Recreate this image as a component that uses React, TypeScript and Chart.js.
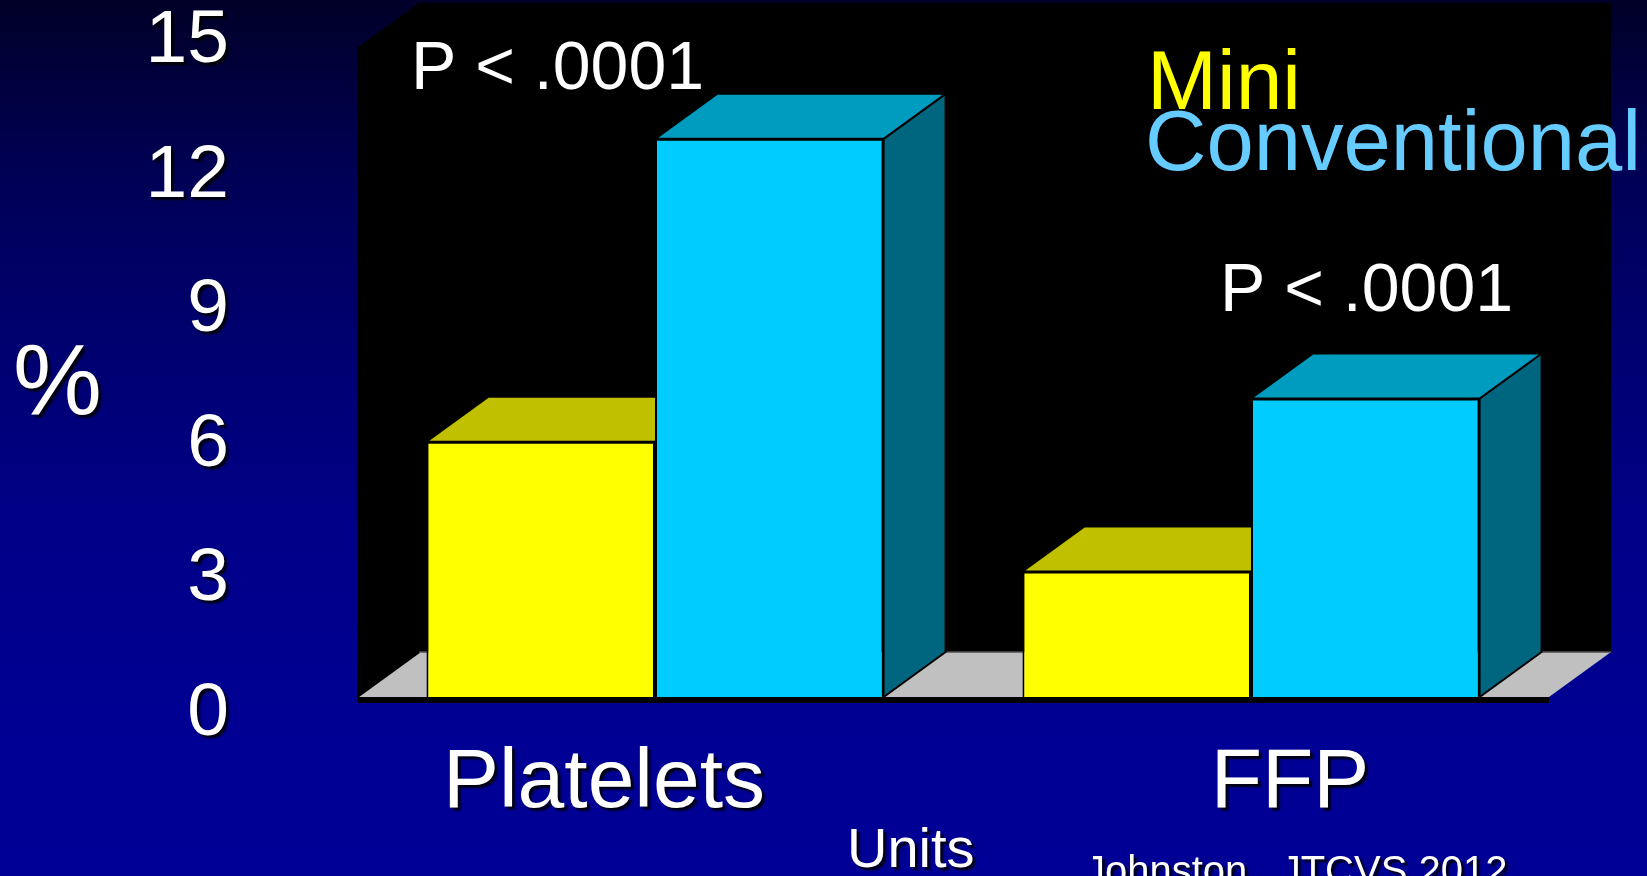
import React, { useEffect, useRef } from "react";
import { Chart, registerables } from "chart.js";

Chart.register(...registerables);

// ---------------- data ----------------
const categories: string[] = ["Platelets", "FFP"];
const seriesNames: string[] = ["Mini", "Conventional"];
const miniValues: number[] = [5.9, 2.9];
const conventionalValues: number[] = [12.9, 6.9];
const yTickValues: number[] = [0, 3, 6, 9, 12, 15];
const pValueTexts: string[] = ["P < .0001", "P < .0001"];
const yAxisTitle = "%";
const unitNote = "Units";
const citation = "Johnston , JTCVS 2012";

// ---------------- style / layout ----------------
const W = 1647;
const H = 876;
const FONT = '"Liberation Sans", Arial, Helvetica, sans-serif';
const MINI_FRONT = "#FFFF00";
const MINI_TOP = "#C0C000";
const MINI_SIDE = "#808000";
const CONV_FRONT = "#00CCFF";
const CONV_TOP = "#009CC0";
const CONV_SIDE = "#006680";
const LEGEND_COLORS = ["#FFFF00", "#66CCFF"];
const DX = 62;
const DY = 45;
const AXIS_MAX = 15;
const FRONT_LEFT = 357;
const FRONT_RIGHT = 1549;
const FRONT_TOP = 48;
const FRONT_BOTTOM = 697;
const LABEL_TOP = 41.5;
const LABEL_BOTTOM = 714;
const TICK_RIGHT = 229;
const CAT_LABEL_SHIFT = [-51, 39];

function drawText(
  ctx: CanvasRenderingContext2D,
  text: string,
  x: number,
  y: number,
  size: number,
  color: string,
  align: CanvasTextAlign,
  shadow: boolean
) {
  ctx.save();
  ctx.font = `${size}px ${FONT}`;
  ctx.fillStyle = color;
  ctx.textAlign = align;
  ctx.textBaseline = "alphabetic";
  if (shadow) {
    ctx.shadowColor = "rgba(0,0,0,0.85)";
    ctx.shadowOffsetX = 3;
    ctx.shadowOffsetY = 3;
    ctx.shadowBlur = 2;
  }
  ctx.fillText(text, x, y);
  ctx.restore();
}

function poly(ctx: CanvasRenderingContext2D, pts: number[][], fill: string | null, stroke: string | null, lw = 2) {
  ctx.beginPath();
  ctx.moveTo(pts[0][0], pts[0][1]);
  for (let i = 1; i < pts.length; i++) ctx.lineTo(pts[i][0], pts[i][1]);
  ctx.closePath();
  if (fill) {
    ctx.fillStyle = fill;
    ctx.fill();
  }
  if (stroke) {
    ctx.strokeStyle = stroke;
    ctx.lineWidth = lw;
    ctx.lineJoin = "miter";
    ctx.stroke();
  }
}

const threeDPlugin = {
  id: "threeD",
  beforeDraw(chart: any) {
    const { ctx, width, height } = chart;
    ctx.save();
    const g = ctx.createLinearGradient(0, 0, 0, height);
    g.addColorStop(0, "#000028");
    g.addColorStop(0.2, "#000056");
    g.addColorStop(0.36, "#00006C");
    g.addColorStop(0.6, "#000088");
    g.addColorStop(0.85, "#000094");
    g.addColorStop(1, "#000096");
    ctx.fillStyle = g;
    ctx.fillRect(0, 0, width, height);
    ctx.restore();
  },
  beforeDatasetsDraw(chart: any) {
    const { ctx, chartArea } = chart;
    const ys = chart.scales.y;
    const L = chartArea.left;
    const R = chartArea.right;
    const B = ys.getPixelForValue(0);
    const T = ys.getPixelForValue(AXIS_MAX);
    ctx.save();
    // back wall + left side wall
    poly(ctx, [[L + DX, T - DY], [R + DX, T - DY], [R + DX, B - DY], [L + DX, B - DY]], "#000000", null);
    poly(ctx, [[L, B], [L, T], [L + DX, T - DY], [L + DX, B - DY]], "#000000", null);
    // floor
    poly(ctx, [[L, B], [R, B], [R + DX, B - DY], [L + DX, B - DY]], "#C0C0C0", null);
    ctx.strokeStyle = "#505050";
    ctx.lineWidth = 1.5;
    ctx.beginPath();
    ctx.moveTo(L + DX, B - DY);
    ctx.lineTo(R + DX, B - DY);
    ctx.stroke();
    ctx.strokeStyle = "#000000";
    ctx.lineWidth = 2.5;
    ctx.beginPath();
    ctx.moveTo(L, B);
    ctx.lineTo(L + DX, B - DY);
    ctx.stroke();
    // thick front edge of floor
    ctx.fillStyle = "#000000";
    ctx.fillRect(L, B, R - L, 6);

    // top and side faces of the bars (fronts are drawn by Chart.js)
    const tops = [MINI_TOP, CONV_TOP];
    const sides = [MINI_SIDE, CONV_SIDE];
    chart.data.datasets.forEach((_ds: any, di: number) => {
      const meta = chart.getDatasetMeta(di);
      meta.data.forEach((bar: any) => {
        const { x, y, base, width } = bar.getProps(["x", "y", "base", "width"], true);
        const l = x - width / 2;
        const r = x + width / 2;
        poly(ctx, [[r, y], [r + DX, y - DY], [r + DX, base - DY], [r, base]], sides[di], "#000000", 2);
        poly(ctx, [[l, y], [r, y], [r + DX, y - DY], [l + DX, y - DY]], tops[di], "#000000", 2);
      });
    });
    ctx.restore();
  },
  afterDatasetsDraw(chart: any) {
    // shadow for the axis tick labels drawn right after this hook
    const ctx = chart.ctx;
    ctx.shadowColor = "rgba(0,0,0,0.85)";
    ctx.shadowOffsetX = 3;
    ctx.shadowOffsetY = 3;
    ctx.shadowBlur = 2;
  },
  afterDraw(chart: any) {
    const ctx = chart.ctx;
    ctx.shadowColor = "rgba(0,0,0,0)";
    ctx.shadowOffsetX = 0;
    ctx.shadowOffsetY = 0;
    ctx.shadowBlur = 0;
    const xs = chart.scales.x;

    drawText(ctx, yAxisTitle, 13, 414, 100, "#FFFFFF", "left", true);
    drawText(ctx, pValueTexts[0], 411, 89, 68, "#FFFFFF", "left", false);
    drawText(ctx, pValueTexts[1], 1220, 311, 68, "#FFFFFF", "left", false);
    drawText(ctx, seriesNames[0], 1147, 109, 84, LEGEND_COLORS[0], "left", false);
    drawText(ctx, seriesNames[1], 1145, 170, 85, LEGEND_COLORS[1], "left", false);
    categories.forEach((c, i) => {
      drawText(ctx, c, xs.getPixelForValue(i) + CAT_LABEL_SHIFT[i], 807, 84, "#FFFFFF", "center", true);
    });
    drawText(ctx, unitNote, 847, 867, 56, "#FFFFFF", "left", true);
    drawText(ctx, citation, 1085, 884, 40, "#FFFFFF", "left", true);
  },
};

export default function App() {
  const ref = useRef<HTMLCanvasElement>(null);

  useEffect(() => {
    const canvas = ref.current;
    if (!canvas) return;
    const unit = (FRONT_BOTTOM - FRONT_TOP) / AXIS_MAX;
    const dataMin = -(LABEL_BOTTOM - FRONT_BOTTOM) / unit;
    const dataMax = AXIS_MAX + (FRONT_TOP - LABEL_TOP) / unit;

    const common = {
      borderColor: "#000000",
      borderWidth: 2,
      borderSkipped: "bottom",
      yAxisID: "y",
      categoryPercentage: 0.767,
      barPercentage: 1,
    };

    const chart = new Chart(canvas, {
      type: "bar",
      data: {
        labels: categories,
        datasets: [
          { ...common, label: seriesNames[0], data: miniValues, backgroundColor: MINI_FRONT },
          { ...common, label: seriesNames[1], data: conventionalValues, backgroundColor: CONV_FRONT },
        ],
      } as any,
      options: {
        responsive: false,
        animation: false,
        devicePixelRatio: 1,
        events: [],
        layout: {
          padding: { top: LABEL_TOP, bottom: H - LABEL_BOTTOM, left: 0, right: W - FRONT_RIGHT },
        },
        plugins: {
          legend: { display: false },
          tooltip: { enabled: false },
          title: { display: false },
        },
        scales: {
          x: { display: false },
          y: { display: false, min: dataMin, max: dataMax },
          yl: {
            type: "linear",
            position: "left",
            min: 0,
            max: AXIS_MAX,
            grid: { display: false, drawTicks: false },
            border: { display: false },
            afterBuildTicks: (s: any) => {
              s.ticks = yTickValues.map((v) => ({ value: v }));
            },
            afterFit: (s: any) => {
              s.width = FRONT_LEFT;
              s.paddingTop = 0;
              s.paddingBottom = 0;
            },
            ticks: {
              z: 1,
              color: "#FFFFFF",
              padding: FRONT_LEFT - TICK_RIGHT,
              font: { family: FONT, size: 75, lineHeight: 1 },
              callback: (v: any) => String(v),
            },
          },
        },
      } as any,
      plugins: [threeDPlugin],
    });
    return () => chart.destroy();
  }, []);

  return (
    <div style={{ position: "fixed", left: 0, top: 0, width: W, height: H, background: "#000080", overflow: "hidden" }}>
      <canvas ref={ref} width={W} height={H} style={{ display: "block", width: W, height: H }} />
    </div>
  );
}
